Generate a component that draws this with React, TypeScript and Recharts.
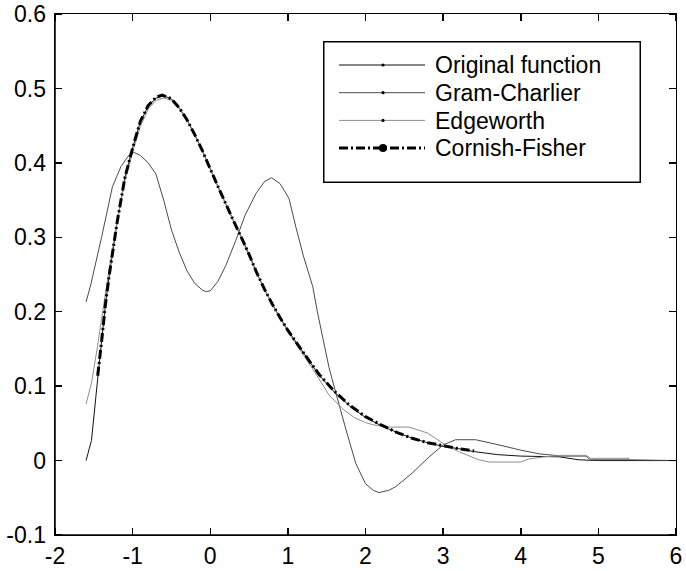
import { LineChart, Line, XAxis, YAxis } from "recharts";

// x ticks and y ticks
const xTicks = [-2, -1, 0, 1, 2, 3, 4, 5, 6];
const yTicks = [-0.1, 0, 0.1, 0.2, 0.3, 0.4, 0.5, 0.6];

const originalX = [
  -1.6, -1.53, -1.45, -1.4, -1.35, -1.3, -1.2, -1.1, -1.0, -0.9, -0.8, -0.7, -0.6, -0.5, -0.4,
  -0.3, -0.2, -0.1, 0, 0.1, 0.2, 0.3, 0.4, 0.5, 0.6, 0.7, 0.8, 0.9, 1.0, 1.2, 1.4, 1.6, 1.8,
  2.0, 2.2, 2.4, 2.6, 2.8, 3.0, 3.2, 3.4, 3.7, 4.0, 4.5, 4.75, 5.0, 5.5, 6.0,
];
const originalY = [
  0, 0.027, 0.11, 0.16, 0.21, 0.25, 0.32, 0.38, 0.42, 0.455, 0.476, 0.487, 0.49, 0.486, 0.474,
  0.458, 0.438, 0.416, 0.392, 0.368, 0.345, 0.322, 0.3, 0.277, 0.252, 0.23, 0.21, 0.192, 0.175,
  0.145, 0.115, 0.092, 0.073, 0.058, 0.047, 0.038, 0.03, 0.024, 0.019, 0.016, 0.012, 0.008,
  0.006, 0.005, 0.001, 0, 0, 0,
];

const gramX = [
  -1.6, -1.54, -1.4, -1.26, -1.15, -1.05, -0.98, -0.9, -0.8, -0.7, -0.6, -0.5, -0.4, -0.3, -0.2,
  -0.1, -0.05, 0, 0.1, 0.2, 0.33, 0.45, 0.59, 0.7, 0.79, 0.9, 1.015, 1.1, 1.2, 1.32, 1.38, 1.45,
  1.53, 1.62, 1.75, 1.875, 2.0, 2.1, 2.175, 2.3, 2.39, 2.6, 2.82, 3.0, 3.16, 3.42, 3.72, 4.0,
  4.24, 4.53, 4.84, 4.9, 5.4, 6.0,
];
const gramY = [
  0.213, 0.236, 0.3, 0.368, 0.395, 0.41, 0.414, 0.41, 0.4, 0.385, 0.35, 0.31, 0.28, 0.255, 0.238,
  0.229, 0.227, 0.228, 0.241, 0.262, 0.296, 0.33, 0.359, 0.375, 0.38, 0.372, 0.352, 0.315, 0.275,
  0.234, 0.2, 0.165, 0.125, 0.09, 0.041, -0.004, -0.031, -0.04, -0.043, -0.04, -0.035, -0.017,
  0.005, 0.021, 0.028, 0.028, 0.021, 0.014, 0.009, 0.006, 0.006, 0.001, 0.001, 0,
];

const edgeX = [
  -1.6, -1.53, -1.45, -1.4, -1.35, -1.3, -1.2, -1.1, -1.0, -0.9, -0.8, -0.7, -0.6, -0.5, -0.4,
  -0.3, -0.2, -0.1, 0, 0.2, 0.4, 0.6, 0.8, 1.0, 1.2, 1.4, 1.53, 1.7, 1.85, 2.0, 2.1, 2.3, 2.56,
  2.8, 3.0, 3.2, 3.46, 3.6, 4.0, 4.1, 4.3, 4.53, 4.84, 4.9, 5.4,
];
const edgeY = [
  0.076, 0.104, 0.155, 0.19, 0.225, 0.258, 0.322, 0.376, 0.415, 0.449, 0.472, 0.484, 0.487,
  0.484, 0.473, 0.457, 0.437, 0.415, 0.391, 0.344, 0.299, 0.251, 0.209, 0.173, 0.142, 0.11,
  0.088, 0.07, 0.058, 0.051, 0.048, 0.045, 0.045, 0.037, 0.023, 0.012, 0.001, -0.002, -0.002,
  0.002, 0.005, 0.007, 0.007, 0.003, 0.003,
];

const cornishX = [
  -1.45, -1.4, -1.35, -1.3, -1.2, -1.1, -1.0, -0.9, -0.8, -0.7, -0.62, -0.5, -0.4, -0.3, -0.2,
  -0.1, 0, 0.1, 0.2, 0.3, 0.4, 0.5, 0.6, 0.7, 0.8, 0.9, 1.0, 1.2, 1.4, 1.6, 1.8, 2.0, 2.2, 2.4,
  2.6, 2.8, 3.0, 3.2, 3.4,
];
const cornishY = [
  0.114, 0.16, 0.21, 0.25, 0.32, 0.38, 0.42, 0.456, 0.477, 0.488, 0.491, 0.486, 0.474, 0.458,
  0.438, 0.416, 0.392, 0.368, 0.345, 0.322, 0.3, 0.277, 0.252, 0.23, 0.21, 0.192, 0.175, 0.145,
  0.116, 0.093, 0.074, 0.059, 0.048, 0.038, 0.03, 0.024, 0.02, 0.016, 0.013,
];

const names = ["Original function", "Gram-Charlier", "Edgeworth", "Cornish-Fisher"];

const zip = (xs: number[], ys: number[]) => xs.map((x, i) => ({ x, y: ys[i] }));

const series = [
  { name: names[0], data: zip(originalX, originalY), stroke: "#111", width: 1, dash: undefined, dot: 1.6 },
  { name: names[1], data: zip(gramX, gramY), stroke: "#4a4a4a", width: 1, dash: undefined, dot: 1.6 },
  { name: names[2], data: zip(edgeX, edgeY), stroke: "#8e8e8e", width: 1, dash: undefined, dot: 1.6 },
  { name: names[3], data: zip(cornishX, cornishY), stroke: "#000", width: 3, dash: "9 3 2 3", dot: 4 },
];

const FONT = "'Liberation Sans', Arial, sans-serif";
const FS = 23;

// plot box in pixels (matlab-style box, ticks pointing inwards on all four sides)
const BOX = { left: 55, right: 676, top: 14, bottom: 535 };
const X_DOMAIN = [-2, 6];
const Y_DOMAIN = [-0.1, 0.6];
const TICK = 7;
const XMARGIN = 13;
const YMARGIN = 9;

function XTick(props: any) {
  const { x, y, payload } = props;
  return (
    <text x={x} y={y} dy="0.71em" textAnchor="middle" fontSize={FS} fontFamily={FONT} fill="#000">
      {payload.value}
    </text>
  );
}

function YTick(props: any) {
  const { x, y, payload } = props;
  return (
    <text x={x} y={y} dy="0.355em" textAnchor="end" fontSize={FS} fontFamily={FONT} fill="#000">
      {payload.value}
    </text>
  );
}

// frame + inward ticks as plain html boxes laid over the chart
function AxesFrame() {
  const px = (v: number) =>
    BOX.left + ((v - X_DOMAIN[0]) / (X_DOMAIN[1] - X_DOMAIN[0])) * (BOX.right - BOX.left);
  const py = (v: number) =>
    BOX.bottom - ((v - Y_DOMAIN[0]) / (Y_DOMAIN[1] - Y_DOMAIN[0])) * (BOX.bottom - BOX.top);
  const mark = (left: number, top: number, w: number, h: number, key: string) => (
    <div
      key={key}
      style={{ position: "absolute", left, top, width: w, height: h, background: "#000" }}
    />
  );
  const marks: any[] = [];
  xTicks.forEach((v) => {
    const x = px(v) - 0.75;
    marks.push(mark(x, BOX.bottom - TICK, 1.5, TICK, `xb${v}`));
    marks.push(mark(x, BOX.top, 1.5, TICK, `xt${v}`));
  });
  yTicks.forEach((v) => {
    const y = py(v) - 0.75;
    marks.push(mark(BOX.left, y, TICK, 1.5, `yl${v}`));
    marks.push(mark(BOX.right - TICK, y, TICK, 1.5, `yr${v}`));
  });
  return (
    <div style={{ position: "absolute", left: 0, top: 0, width: 686, height: 571, pointerEvents: "none" }}>
      <div
        style={{
          position: "absolute",
          left: BOX.left - 0.75,
          top: BOX.top - 0.75,
          width: BOX.right - BOX.left,
          height: BOX.bottom - BOX.top,
          border: "1.5px solid #000",
        }}
      />
      {marks}
    </div>
  );
}

function LegendBox() {
  return (
    <svg
      width={318}
      height={142}
      style={{ position: "absolute", left: 323, top: 41, display: "block" }}
    >
      <rect x={0.75} y={0.75} width={316.5} height={140.5} fill="#fff" stroke="#000" strokeWidth={1.5} />
      {series.map((s, i) => {
        const cy = 24 + i * 27.7;
        return (
          <g key={s.name}>
            <line
              x1={16}
              x2={102}
              y1={cy}
              y2={cy}
              stroke={s.stroke}
              strokeWidth={s.width}
              strokeDasharray={s.dash}
            />
            <circle cx={60} cy={cy} r={s.dot} fill="#000" />
            <text x={112} y={cy} dy="0.355em" fontSize={FS} fontFamily={FONT} fill="#000">
              {s.name}
            </text>
          </g>
        );
      })}
    </svg>
  );
}

export default function App() {
  return (
    <div style={{ position: "absolute", left: 0, top: 0, width: 686, height: 571, background: "#fff" }}>
      <LineChart
        width={686}
        height={571}
        data={series[0].data}
        margin={{ top: BOX.top, right: 686 - BOX.right, bottom: 0, left: 0 }}
      >
        <XAxis
          dataKey="x"
          type="number"
          domain={X_DOMAIN}
          ticks={xTicks}
          height={571 - BOX.bottom}
          tickSize={0}
          tickMargin={XMARGIN}
          tickLine={false}
          tick={<XTick />}
          axisLine={{ stroke: "#000", strokeWidth: 1.5 }}
        />
        <YAxis
          type="number"
          domain={Y_DOMAIN}
          ticks={yTicks}
          width={BOX.left}
          tickSize={0}
          tickMargin={YMARGIN}
          tickLine={false}
          tick={<YTick />}
          axisLine={{ stroke: "#000", strokeWidth: 1.5 }}
        />
        {series.map((s) => (
          <Line
            key={s.name}
            name={s.name}
            data={s.data}
            dataKey="y"
            type="linear"
            stroke={s.stroke}
            strokeWidth={s.width}
            strokeDasharray={s.dash}
            dot={false}
            activeDot={false}
            isAnimationActive={false}
          />
        ))}
      </LineChart>
      <AxesFrame />
      <LegendBox />
    </div>
  );
}
